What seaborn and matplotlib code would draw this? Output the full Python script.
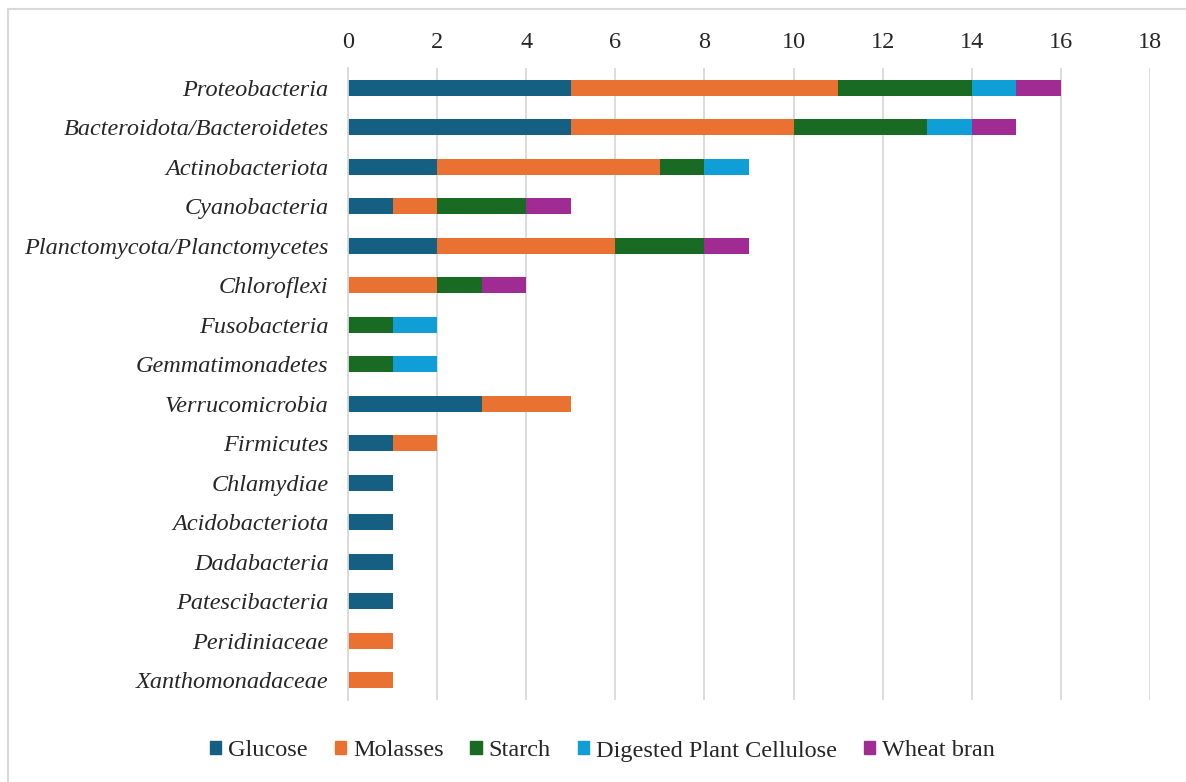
import matplotlib
matplotlib.use("Agg")
import matplotlib.pyplot as plt
import matplotlib.patches as mpatches
import numpy as np
import pandas as pd
import seaborn as sns

phyla = [
    "Proteobacteria", "Bacteroidota/Bacteroidetes", "Actinobacteriota",
    "Cyanobacteria", "Planctomycota/Planctomycetes", "Chloroflexi",
    "Fusobacteria", "Gemmatimonadetes", "Verrucomicrobia", "Firmicutes",
    "Chlamydiae", "Acidobacteriota", "Dadabacteria", "Patescibacteria",
    "Peridiniaceae", "Xanthomonadaceae",
]
glucose   = [5, 5, 2, 1, 2, 0, 0, 0, 3, 1, 1, 1, 1, 1, 0, 0]
molasses  = [6, 5, 5, 1, 4, 2, 0, 0, 2, 1, 0, 0, 0, 0, 1, 1]
starch    = [3, 3, 1, 2, 2, 1, 1, 1, 0, 0, 0, 0, 0, 0, 0, 0]
cellulose = [1, 1, 1, 0, 0, 0, 1, 1, 0, 0, 0, 0, 0, 0, 0, 0]
wheat     = [1, 1, 0, 1, 1, 1, 0, 0, 0, 0, 0, 0, 0, 0, 0, 0]

series_names = ["Glucose", "Molasses", "Starch", "Digested Plant Cellulose", "Wheat bran"]
series_vals = [glucose, molasses, starch, cellulose, wheat]
colors = ["#156082", "#E97132", "#196B24", "#0F9ED5", "#A02B93"]

sns.set_theme(style="white")
plt.rcParams["font.family"] = ["Liberation Serif", "DejaVu Serif"]

FS = 17.5

fig = plt.figure(figsize=(11.86, 7.82), dpi=100)
ax = fig.add_axes([348 / 1186, 1 - 700 / 782, (1150 - 348) / 1186, (700 - 68) / 782])

# stacked bars: draw cumulative totals from the outermost series inward
cum = np.cumsum(np.array(series_vals, dtype=float), axis=0)
for i in range(len(series_names) - 1, -1, -1):
    df = pd.DataFrame({"phylum": phyla, "value": cum[i]})
    sns.barplot(data=df, x="value", y="phylum", order=phyla, orient="h",
                color=colors[i], saturation=1, width=0.41, ax=ax,
                edgecolor="none", linewidth=0)

ax.set_xlim(0, 18)
ax.set_ylim(15.5, -0.5)
ax.set_xticks(range(0, 19, 2))
ax.xaxis.tick_top()
ax.set_xlabel("")
ax.set_ylabel("")
ax.grid(axis="x", color="#d9d9d9", linewidth=1.3)
ax.set_axisbelow(True)
for s in ["top", "right", "bottom"]:
    ax.spines[s].set_visible(False)
ax.spines["left"].set_color("#d9d9d9")
ax.spines["left"].set_linewidth(1.3)
ax.tick_params(axis="x", length=0, pad=11, labelsize=FS)
ax.tick_params(axis="y", length=0, pad=14, labelsize=FS)
for lbl in ax.get_yticklabels():
    lbl.set_fontstyle("italic")

handles = [mpatches.Patch(color=c, label=n) for c, n in zip(colors, series_names)]
fig.legend(handles=handles, loc="center", bbox_to_anchor=(0.508, 1 - 751 / 782),
           ncol=5, frameon=False, fontsize=FS, handlelength=0.46, handleheight=0.46,
           handletextpad=0.3, columnspacing=1.1)

# outer frame
fig.patches.append(mpatches.Rectangle((8 / 1186, -0.05), 1.2, 1 - 9 / 782 + 0.05,
                                      transform=fig.transFigure, fill=False,
                                      edgecolor="#d9d9d9", linewidth=1.5))

fig.savefig("out.png", dpi=100)
